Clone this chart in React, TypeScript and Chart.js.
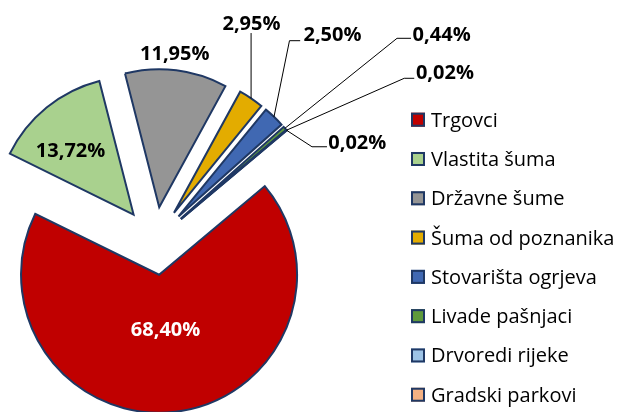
import React, { useEffect, useRef } from 'react';
import { Chart, registerables } from 'chart.js';

Chart.register(...registerables);

// ---- data ----
const CATEGORIES = [
  'Trgovci',
  'Vlastita šuma',
  'Državne šume',
  'Šuma od poznanika',
  'Stovarišta ogrjeva',
  'Livade pašnjaci',
  'Drvoredi rijeke',
  'Gradski parkovi',
];
const SHARES = [68.4, 13.72, 11.95, 2.95, 2.5, 0.44, 0.02, 0.02];

// ---- styles ----
const COLORS = ['#C00000', '#A9D18E', '#959595', '#E3AC00', '#4068B2', '#5E9A3C', '#9DC3E6', '#F4B183'];
const BORDER = '#1F3864';
const FONT = '"Open Sans", Lato, sans-serif';
const EXPLODE = 34;
const RADIUS = 138;
const ROTATION = 50;

type LabelSpec =
  | { mode: 'polar'; rf: number; da: number; color: string }
  | { mode: 'vertical'; dx: number; dy: number; gap: number }
  | { mode: 'elbow'; dx: number; dy: number; elbow: number; end: number; ly: number };

const LABEL_LAYOUT: LabelSpec[] = [
  { mode: 'polar', rf: 0.393, da: 0, color: '#FFFFFF' },
  { mode: 'polar', rf: 0.654, da: -5.2, color: '#000000' },
  { mode: 'polar', rf: 1.125, da: -1.4, color: '#000000' },
  { mode: 'vertical', dx: 0.4, dy: -75.3, gap: 10 },
  { mode: 'elbow', dx: 58.5, dy: -83.1, elbow: 14, end: 3.3, ly: 7 },
  { mode: 'elbow', dx: 156.7, dy: -94.0, elbow: 15.6, end: 1.6, ly: 4 },
  { mode: 'elbow', dx: 158.4, dy: -58.2, elbow: 11.7, end: 1.7, ly: 6.3 },
  { mode: 'elbow', dx: 70.6, dy: 11.4, elbow: 16.3, end: 1.3, ly: 5 },
];

const LEGEND = { x: 411, y0: 119.7, step: 39.29, box: 14, textX: 431, size: 20 };
const LABEL_SIZE = 20;

const fmt = (v: number) => v.toFixed(2).replace('.', ',') + '%';

const explodePlugin = {
  id: 'explodeSlices',
  beforeDatasetDraw(chart: any, args: any) {
    const { ctx } = chart;
    args.meta.data.forEach((arc: any) => {
      const { startAngle, endAngle } = arc.getProps(['startAngle', 'endAngle'], true);
      const mid = (startAngle + endAngle) / 2;
      ctx.save();
      ctx.translate(Math.cos(mid) * EXPLODE, Math.sin(mid) * EXPLODE);
      arc.draw(ctx);
      ctx.restore();
    });
    return false;
  },
};

const labelPlugin = {
  id: 'sliceLabels',
  afterDatasetsDraw(chart: any) {
    const { ctx } = chart;
    const meta = chart.getDatasetMeta(0);
    const values = chart.data.datasets[0].data as number[];
    ctx.save();
    ctx.font = `bold ${LABEL_SIZE}px ${FONT}`;
    ctx.textAlign = 'center';
    ctx.textBaseline = 'alphabetic';
    meta.data.forEach((arc: any, i: number) => {
      const { x, y, startAngle, endAngle, outerRadius } = arc.getProps(
        ['x', 'y', 'startAngle', 'endAngle', 'outerRadius'],
        true
      );
      const mid = (startAngle + endAngle) / 2;
      const cx = x + Math.cos(mid) * EXPLODE;
      const cy = y + Math.sin(mid) * EXPLODE;
      const ax = cx + Math.cos(mid) * outerRadius;
      const ay = cy + Math.sin(mid) * outerRadius;
      const text = fmt(values[i]);
      const w = ctx.measureText(text).width;
      const spec = LABEL_LAYOUT[i];
      let lx = 0;
      let ly = 0;
      ctx.fillStyle = '#000000';
      if (spec.mode === 'polar') {
        const a = mid + (spec.da * Math.PI) / 180;
        lx = cx + Math.cos(a) * outerRadius * spec.rf;
        ly = cy + Math.sin(a) * outerRadius * spec.rf;
        ctx.fillStyle = spec.color;
      } else {
        lx = ax + spec.dx;
        ly = ay + spec.dy;
        ctx.strokeStyle = '#000000';
        ctx.lineWidth = 1;
        ctx.beginPath();
        if (spec.mode === 'vertical') {
          ctx.moveTo(ax, ay);
          ctx.lineTo(ax, ly + spec.gap);
        } else {
          const left = lx - w / 2;
          ctx.moveTo(ax, ay);
          ctx.lineTo(left - spec.elbow, ly + spec.ly);
          ctx.lineTo(left - spec.end, ly + spec.ly);
        }
        ctx.stroke();
      }
      ctx.fillText(text, lx, ly + 7);
    });
    ctx.restore();
  },
};

const legendPlugin = {
  id: 'sideLegend',
  afterDraw(chart: any) {
    const { ctx } = chart;
    const labels = chart.data.labels as string[];
    const colors = chart.data.datasets[0].backgroundColor as string[];
    ctx.save();
    ctx.font = `${LEGEND.size}px ${FONT}`;
    ctx.textAlign = 'left';
    ctx.textBaseline = 'alphabetic';
    labels.forEach((lab, i) => {
      const cy = LEGEND.y0 + i * LEGEND.step;
      const top = cy - LEGEND.box / 2;
      ctx.fillStyle = colors[i];
      ctx.fillRect(LEGEND.x, top, LEGEND.box, LEGEND.box);
      ctx.strokeStyle = BORDER;
      ctx.lineWidth = 2;
      ctx.strokeRect(LEGEND.x + 1, top + 1, LEGEND.box - 2, LEGEND.box - 2);
      ctx.fillStyle = '#000000';
      ctx.fillText(lab, LEGEND.textX, cy + 7);
    });
    ctx.restore();
  },
};

export default function App() {
  const ref = useRef<HTMLCanvasElement | null>(null);

  useEffect(() => {
    document.body.style.margin = '0';
    const canvas = ref.current;
    if (!canvas) return;
    const chart = new Chart(canvas, {
      type: 'pie',
      data: {
        labels: CATEGORIES,
        datasets: [
          {
            data: SHARES,
            backgroundColor: COLORS,
            borderColor: BORDER,
            borderWidth: 2,
            borderJoinStyle: 'miter',
          } as any,
        ],
      },
      options: {
        responsive: false,
        animation: false,
        rotation: ROTATION,
        radius: RADIUS,
        layout: { padding: { left: 0, right: 312, top: 70, bottom: 0 } },
        plugins: {
          legend: { display: false },
          tooltip: { enabled: false },
        },
        events: [],
      } as any,
      plugins: [explodePlugin, labelPlugin, legendPlugin],
    });
    return () => chart.destroy();
  }, []);

  return (
    <div style={{ width: 622, height: 412, overflow: 'hidden', background: '#FFFFFF' }}>
      <canvas ref={ref} width={622} height={412} style={{ display: 'block' }} />
    </div>
  );
}
